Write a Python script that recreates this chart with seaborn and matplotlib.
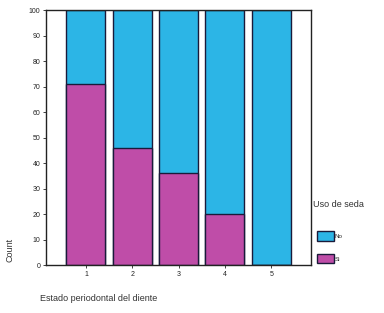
import matplotlib
matplotlib.use("Agg")
import matplotlib.pyplot as plt
import seaborn as sns
import pandas as pd
from matplotlib.patches import Patch

categories = ["1", "2", "3", "4", "5"]
si_values = [71, 46, 36, 20, 0]
no_values = [29, 54, 64, 80, 100]
legend_labels = ["No", "Si"]

sns.set_style("white")
plt.rcParams['font.family'] = ['Liberation Sans', 'DejaVu Sans']

df = pd.DataFrame({"cat": categories, "Si": si_values,
                   "Total": [s + n for s, n in zip(si_values, no_values)]})

fig = plt.figure(figsize=(3.84, 3.13), dpi=100)
ax = fig.add_axes([0.12, 0.153, 0.69, 0.815])

cyan = "#2CB5E6"
mag = "#BF4DA8"
sns.barplot(data=df, x="cat", y="Total", color=cyan, width=0.84,
            edgecolor="#1a1a3a", linewidth=1.0, ax=ax, saturation=1)
sns.barplot(data=df, x="cat", y="Si", color=mag, width=0.84,
            edgecolor="#1a1a3a", linewidth=1.0, ax=ax, saturation=1)

ax.set_xlim(-0.86, 4.86)
ax.set_ylim(0, 100)
ax.set_yticks(range(0, 101, 10))
ax.tick_params(axis="both", labelsize=5, length=2, width=0.6, direction="out",
               colors="#222222", pad=2)
ax.tick_params(left=True, bottom=True)
ax.set_xlabel("")
ax.set_ylabel("")
for s in ax.spines.values():
    s.set_linewidth(1.0)
    s.set_color("#222222")

fig.text(0.105, 0.045, "Estado periodontal del diente", fontsize=6.5,
         color="#333333", ha="left", va="center")
fig.text(0.025, 0.20, "Count", fontsize=6.5, color="#333333",
         rotation=90, ha="center", va="center")
fig.text(0.815, 0.348, "Uso de seda", fontsize=6.5, color="#333333",
         ha="left", va="center")

handles = [Patch(facecolor=cyan, edgecolor="#1a1a3a"),
           Patch(facecolor=mag, edgecolor="#1a1a3a")]
leg = fig.legend(handles, legend_labels,
                 loc="upper left", bbox_to_anchor=(0.825, 0.262),
                 frameon=False, fontsize=4.5,
                 handlelength=2.7, handleheight=2.0, labelspacing=2.1,
                 borderaxespad=0, borderpad=0, handletextpad=0.2)

fig.savefig("out.png", dpi=100)
